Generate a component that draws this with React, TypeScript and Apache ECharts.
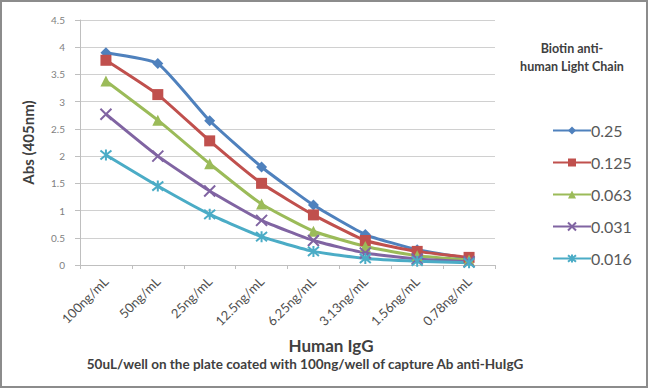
import React, { useEffect, useRef } from "react";
import * as echarts from "echarts";

const categories = ["100ng/mL", "50ng/mL", "25ng/mL", "12.5ng/mL", "6.25ng/mL", "3.13ng/mL", "1.56ng/mL", "0.78ng/mL"];
const seriesNames = ["0.25", "0.125", "0.063", "0.031", "0.016"];
const s025 = [3.9, 3.7, 2.65, 1.8, 1.1, 0.56, 0.28, 0.12];
const s0125 = [3.76, 3.13, 2.28, 1.5, 0.92, 0.45, 0.25, 0.14];
const s0063 = [3.38, 2.66, 1.86, 1.12, 0.62, 0.34, 0.17, 0.09];
const s0031 = [2.77, 2.0, 1.36, 0.82, 0.45, 0.22, 0.11, 0.06];
const s0016 = [2.02, 1.45, 0.93, 0.52, 0.25, 0.12, 0.07, 0.04];
const yTicks = [0, 0.5, 1, 1.5, 2, 2.5, 3, 3.5, 4, 4.5];

const colors = ["#4F81BD", "#C0504D", "#9BBB59", "#8064A2", "#4BACC6"];
const symbols = [
  "diamond",
  "rect",
  "triangle",
  "path://M0,0L10,10M10,0L0,10",
  "path://M0,0L10,10M10,0L0,10M5,-1L5,11",
];
const symbolSizes = [11, 11, 11, 11, 11];
const allData = [s025, s0125, s0063, s0031, s0016];

export default function App() {
  const ref = useRef<HTMLDivElement>(null);
  useEffect(() => {
    document.body.style.margin = "0";
    const chart = echarts.init(ref.current!, null, { renderer: "svg" });
    const font = "Lato, 'Open Sans', sans-serif";
    chart.setOption({
      animation: false,
      backgroundColor: "#ffffff",
      grid: { left: 80, right: 155, top: 20, bottom: 125 },
      xAxis: {
        type: "category",
        data: categories,
        boundaryGap: true,
        axisLine: { show: true, lineStyle: { color: "#bfbfbf", width: 1 } },
        axisTick: { show: true, alignWithLabel: false, length: 4, lineStyle: { color: "#bfbfbf" } },
        axisLabel: { rotate: 45, fontSize: 13, color: "#505050", fontFamily: font, margin: 14 },
      },
      yAxis: {
        type: "value",
        min: 0,
        max: 4.5,
        interval: 0.5,
        name: "Abs (405nm)",
        nameLocation: "middle",
        nameGap: 45,
        nameTextStyle: { fontSize: 15, fontWeight: "bold", color: "#404040", fontFamily: font },
        axisLine: { show: true, lineStyle: { color: "#bfbfbf", width: 1 } },
        axisTick: { show: true, length: 5, lineStyle: { color: "#bfbfbf" } },
        axisLabel: {
          fontSize: 10,
          color: "#7f7f7f",
          fontFamily: font,
          margin: 15,
          formatter: (v: number) => (yTicks.includes(v) ? String(v) : ""),
        },
        splitLine: { show: true, lineStyle: { color: "#d0d0d0", width: 1 } },
      },
      legend: {
        orient: "vertical",
        left: 547,
        top: 117,
        itemGap: 15,
        itemWidth: 38,
        itemHeight: 10,
        data: seriesNames,
        textStyle: { fontSize: 16, lineHeight: 17, color: "#595959", fontFamily: font, padding: [0, 0, 0, -5] },
      },
      graphic: [
        {
          type: "rect",
          shape: { x: 1, y: 1, width: 646, height: 386 },
          style: { fill: "none", stroke: "#8c8c8c", lineWidth: 2 },
          silent: true,
        },
        {
          type: "text",
          x: 572,
          y: 39,
          style: {
            text: "Biotin anti-\nhuman Light Chain",
            textAlign: "center",
            fontSize: 12.5,
            fontWeight: "bold",
            fill: "#404040",
            fontFamily: font,
            lineHeight: 18,
          },
        },
        {
          type: "text",
          x: 331,
          y: 345,
          style: {
            text: "Human IgG",
            textAlign: "center",
            textVerticalAlign: "middle",
            fontSize: 17,
            fontWeight: "bold",
            fill: "#404040",
            fontFamily: font,
          },
        },
        {
          type: "text",
          x: 305,
          y: 364,
          style: {
            text: "50uL/well on the plate coated with 100ng/well of capture Ab anti-HuIgG",
            textAlign: "center",
            textVerticalAlign: "middle",
            fontSize: 13.5,
            fontWeight: "bold",
            fill: "#404040",
            fontFamily: font,
          },
        },
      ],
      series: seriesNames.map((name, i) => ({
        name,
        type: "line",
        data: allData[i],
        smooth: 0.15,
        symbol: symbols[i],
        symbolSize: symbolSizes[i],
        showSymbol: true,
        color: colors[i],
        lineStyle: { color: colors[i], width: 3 },
        itemStyle: { color: colors[i], borderColor: colors[i], borderWidth: i >= 3 ? 2 : 0 },
      })),
    });
    return () => chart.dispose();
  }, []);
  return <div ref={ref} style={{ width: 650, height: 390 }} />;
}
